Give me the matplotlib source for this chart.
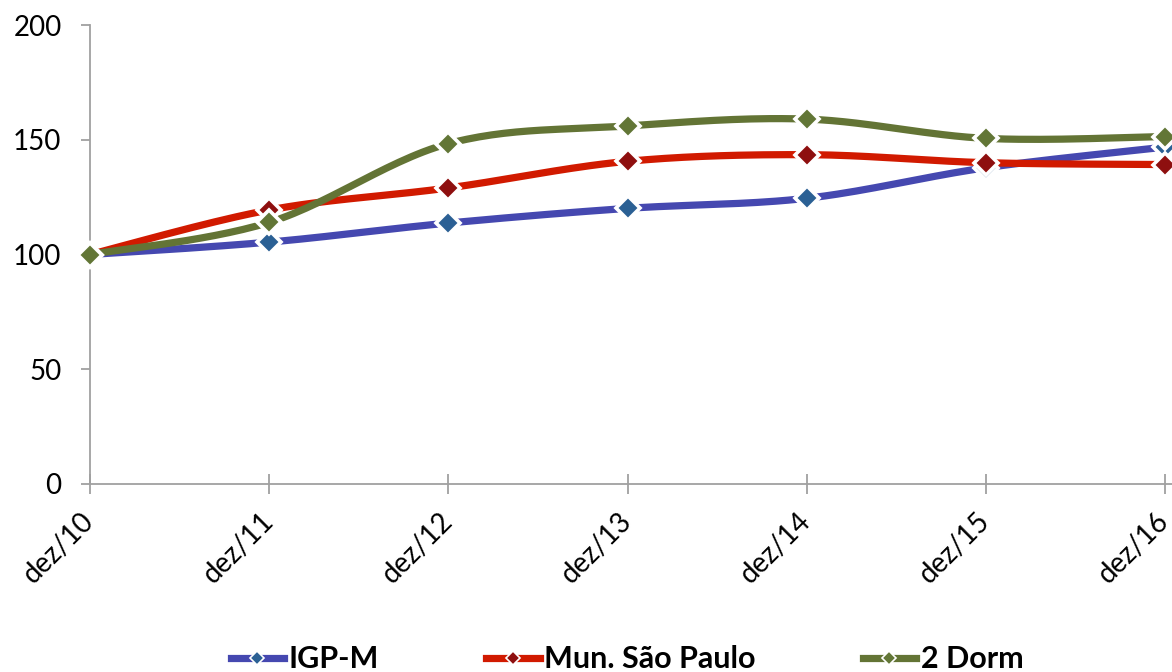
import numpy as np
import matplotlib
matplotlib.use('Agg')
import matplotlib.pyplot as plt
from matplotlib.lines import Line2D

plt.rcParams['font.family'] = ['Lato', 'DejaVu Sans']

periods = ['dez/10', 'dez/11', 'dez/12', 'dez/13', 'dez/14', 'dez/15', 'dez/16']
igpm = [100, 105.4, 113.7, 120.1, 124.5, 137.8, 146.8]
mun_sp = [100, 119.4, 129.0, 140.6, 143.5, 140.0, 139.2]
dorm2 = [100, 114.0, 148.3, 156.0, 159.0, 150.6, 151.4]
names = ['IGP-M', 'Mun. São Paulo', '2 Dorm']

line_cols = ['#4548B0', '#D11A00', '#637435']
mark_cols = ['#2B6094', '#8E0F0F', '#627636']


def smooth(x, y, n=30):
    # excel-like smoothed line: catmull-rom through the points as bezier segments
    x = np.asarray(x, float); y = np.asarray(y, float)
    px = np.concatenate([[x[0]], x, [x[-1]]])
    py = np.concatenate([[y[0]], y, [y[-1]]])
    xs, ys = [], []
    t = np.linspace(0, 1, n)
    for i in range(1, len(px) - 2):
        p0 = np.array([px[i], py[i]])
        p3 = np.array([px[i + 1], py[i + 1]])
        c1 = p0 + (np.array([px[i + 1], py[i + 1]]) - np.array([px[i - 1], py[i - 1]])) / 6
        c2 = p3 - (np.array([px[i + 2], py[i + 2]]) - np.array([px[i], py[i]])) / 6
        b = ((1 - t) ** 3)[:, None] * p0 + (3 * (1 - t) ** 2 * t)[:, None] * c1 \
            + (3 * (1 - t) * t ** 2)[:, None] * c2 + (t ** 3)[:, None] * p3
        xs.append(b[:, 0]); ys.append(b[:, 1])
    return np.concatenate(xs), np.concatenate(ys)


fig = plt.figure(figsize=(11.72, 6.72), dpi=100)
ax = fig.add_axes([90 / 1172, 1 - 484 / 672, 1082 / 1172, 459 / 672])

x = np.arange(len(periods))
series = [igpm, mun_sp, dorm2]

for s, c in zip(series, line_cols):
    sx, sy = smooth(x, s)
    ax.plot(sx, sy, color=c, lw=5.2, solid_capstyle='round', zorder=2, clip_on=False)
for s, c in zip(series, mark_cols):
    ax.plot(x, s, ls='none', marker='D', ms=12.5, mfc=c, mec='white', mew=2.6,
            zorder=3, clip_on=False)

ax.set_ylim(0, 200)
ax.set_xlim(0, 6 * 1082 / 1075)
ax.set_yticks([0, 50, 100, 150, 200])
ax.set_xticks(x)
ax.set_xticklabels(periods, rotation=45, ha='right', va='center', rotation_mode='anchor')

for sp in ['top', 'right']:
    ax.spines[sp].set_visible(False)
for sp in ['left', 'bottom']:
    ax.spines[sp].set_color('#A0A0A0')
    ax.spines[sp].set_linewidth(1.3)
ax.spines['left'].set_bounds(0, 200)

ax.tick_params(axis='y', direction='out', length=6.5, width=1.3, color='#A0A0A0',
               labelsize=20, pad=14)
ax.tick_params(axis='x', direction='inout', length=14, width=1.3, color='#A0A0A0',
               labelsize=20, pad=17)

handles = [Line2D([], [], color=lc, lw=5.2, marker='D', ms=7, mfc=mc, mec='white', mew=1.2)
           for lc, mc in zip(line_cols, mark_cols)]
fig.legend(handles, names, loc='center', bbox_to_anchor=(627 / 1172, 0.019), ncol=3,
           frameon=False, prop={'weight': 'bold', 'size': 22}, handlelength=1.75,
           handletextpad=0.15, columnspacing=3.5)

fig.savefig('out.png', dpi=100)
